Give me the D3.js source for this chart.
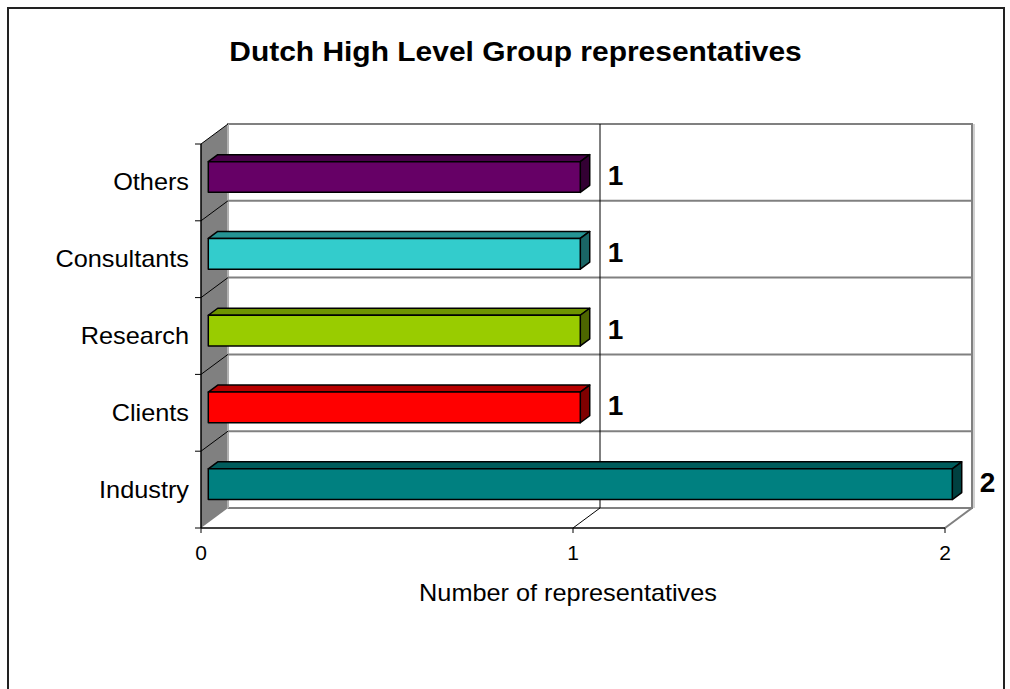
<!DOCTYPE html>
<html><head><meta charset="utf-8">
<script src="https://cdn.jsdelivr.net/npm/d3@7"></script>
<style>body{margin:0;background:#fff;} svg{display:block;} text{font-family:"Liberation Sans",Arial,sans-serif;}</style>
</head><body>
<svg id="c" width="1010" height="689"></svg>
<script>
const categories = ["Others","Consultants","Research","Clients","Industry"];
const values = [1,1,1,1,2];
const colors = ["#660066","#33CCCC","#99CC00","#FF0000","#008080"];
const xTicks = [0,1,2];
const title = "Dutch High Level Group representatives";
const xTitle = "Number of representatives";

const svg = d3.select("#c");
const SX = 1.1;
const DX = 27, DY = -20;
const x = d3.scaleLinear().domain([0,2]).range([201,945]);
const y = d3.scaleBand().domain(categories).range([144,528]).paddingInner(0).paddingOuter(0);
const off = d => [DX*d, DY*d];
const d0 = 0.27, d1 = 0.62;

// outer border
svg.append("rect").attr("x",8).attr("y",8).attr("width",996).attr("height",700)
  .attr("fill","none").attr("stroke","#222").attr("stroke-width",2);

const x0 = x(0), x2 = x(2), yt = y.range()[0], yb = y.range()[1];

// back wall
svg.append("rect").attr("x",x0+DX).attr("y",yt+DY).attr("width",x2-x0).attr("height",yb-yt)
  .attr("fill","#fff").attr("stroke","#808080").attr("stroke-width",2);
svg.append("line").attr("x1",x2+DX+2).attr("x2",x2+DX+2).attr("y1",yt+DY).attr("y2",yb+DY)
  .attr("stroke","#c0c0c0").attr("stroke-width",1.5);
// floor
svg.append("path").attr("d",`M${x0},${yb}L${x0+DX},${yb+DY}L${x2+DX},${yb+DY}L${x2},${yb}Z`)
  .attr("fill","#fff").attr("stroke","none");
svg.append("line").attr("x1",x0+DX).attr("x2",x2+DX).attr("y1",yb+DY).attr("y2",yb+DY)
  .attr("stroke","#808080").attr("stroke-width",2);
svg.append("line").attr("x1",x2+DX).attr("y1",yb+DY).attr("x2",x2).attr("y2",yb)
  .attr("stroke","#808080").attr("stroke-width",2);
// left wall
svg.append("path").attr("d",`M${x0},${yt}L${x0+DX},${yt+DY}L${x0+DX},${yb+DY}L${x0},${yb}Z`)
  .attr("fill","#808080").attr("stroke","none");
svg.append("line").attr("x1",x0+DX).attr("x2",x0+DX).attr("y1",yt+DY).attr("y2",yb+DY)
  .attr("stroke","#c0c0c0").attr("stroke-width",1.5);

// horizontal gridlines (category boundaries)
const bounds = categories.slice(1).map(c => y(c));
bounds.forEach(b => {
  svg.append("line").attr("x1",x0+DX).attr("x2",x2+DX).attr("y1",b+DY).attr("y2",b+DY)
    .attr("stroke","#808080").attr("stroke-width",2);
});
[yt].concat(bounds).forEach(b => {
  svg.append("line").attr("x1",x0).attr("y1",b).attr("x2",x0+DX).attr("y2",b+DY)
    .attr("stroke","#000").attr("stroke-width",1);
});
// vertical gridlines
xTicks.filter(t => t>0 && t<2).forEach(t => {
  svg.append("line").attr("x1",x(t)+DX).attr("x2",x(t)+DX).attr("y1",yt+DY).attr("y2",yb+DY)
    .attr("stroke","#000").attr("stroke-width",1);
  svg.append("line").attr("x1",x(t)+DX).attr("y1",yb+DY).attr("x2",x(t)).attr("y2",yb)
    .attr("stroke","#000").attr("stroke-width",1);
});

// axes
svg.append("line").attr("x1",x0).attr("x2",x0).attr("y1",yt).attr("y2",yb).attr("stroke","#000").attr("stroke-width",1.5);
svg.append("line").attr("x1",x0).attr("x2",x2).attr("y1",yb).attr("y2",yb).attr("stroke","#000").attr("stroke-width",1.5);
[yt].concat(bounds).concat([yb]).forEach(b => {
  svg.append("line").attr("x1",x0-6).attr("x2",x0).attr("y1",b).attr("y2",b).attr("stroke","#000").attr("stroke-width",1);
});
xTicks.forEach(t => {
  svg.append("line").attr("x1",x(t)).attr("x2",x(t)).attr("y1",yb).attr("y2",yb+5).attr("stroke","#000").attr("stroke-width",1);
  svg.append("text").attr("x",x(t)).attr("y",560).attr("text-anchor","middle")
    .attr("font-size",21).text(t);
});

// category labels
categories.forEach(c => {
  svg.append("text").attr("transform",`translate(189,${y(c)+y.bandwidth()/2+8}) scale(${SX},1)`)
    .attr("text-anchor","end").attr("font-size",23).text(c);
});

// bars
const bh = y.bandwidth()*0.2;
const shade = (col,k) => { const c = d3.rgb(col); return d3.rgb(c.r*k,c.g*k,c.b*k).toString(); };
categories.forEach((c,i) => {
  const [ox,oy] = off(d0);
  const [ex,ey] = off(d1-d0);
  const cy = y(c)+y.bandwidth()/2+oy;
  const xl = x(0)+ox, xr = x(values[i])+ox;
  const top = cy-bh, bot = cy+bh;
  const g = svg.append("g").attr("stroke","#000").attr("stroke-width",1.5).attr("stroke-linejoin","round");
  g.append("path").attr("d",`M${xl},${top}L${xl+ex},${top+ey}L${xr+ex},${top+ey}L${xr},${top}Z`).attr("fill",shade(colors[i],0.72));
  g.append("path").attr("d",`M${xr},${top}L${xr+ex},${top+ey}L${xr+ex},${bot+ey}L${xr},${bot}Z`).attr("fill",shade(colors[i],0.5));
  g.append("rect").attr("x",xl).attr("y",top).attr("width",xr-xl).attr("height",bot-top).attr("fill",colors[i]);
  svg.append("text").attr("x",xr+ex+18).attr("y",cy+8).attr("font-size",28).attr("font-weight","bold")
    .text(values[i]);
});

// titles
svg.append("text").attr("transform",`translate(515.5,61) scale(1.07,1)`).attr("text-anchor","middle")
  .attr("font-size",28).attr("font-weight","bold").text(title);
svg.append("text").attr("transform",`translate(568,601) scale(${SX},1)`).attr("text-anchor","middle")
  .attr("font-size",23).text(xTitle);
</script>
</body></html>
